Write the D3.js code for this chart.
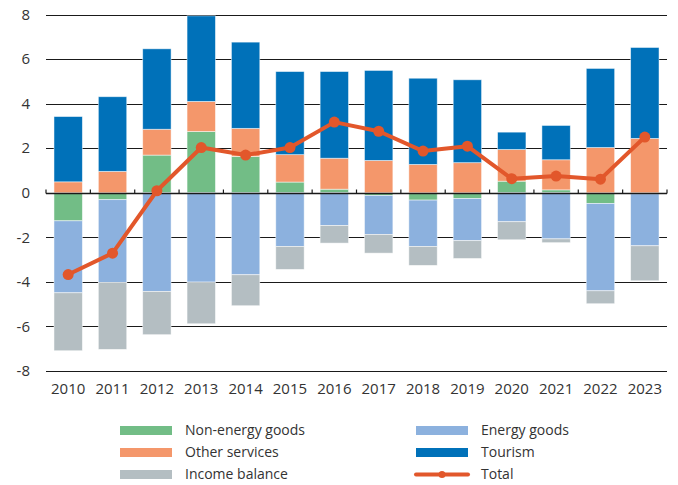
<!DOCTYPE html>
<html>
<head>
<meta charset="utf-8">
<script src="https://cdn.jsdelivr.net/npm/d3@7"></script>
<style>
  body { margin: 0; background: #fff; }
  svg text { font-family: "Open Sans", "Noto Sans", sans-serif; fill: #333; }
</style>
</head>
<body>
<div id="chart"></div>
<script>
'use strict';

// Current account contributions, per cent of GDP
var years = ["2010", "2011", "2012", "2013", "2014", "2015", "2016", "2017", "2018", "2019", "2020", "2021", "2022", "2023"];
var nonEnergyGoods = [-1.26, -0.31, 1.69, 2.75, 1.63, 0.48, 0.16, -0.12, -0.33, -0.26, 0.52, 0.13, -0.48, -0.05];
var energyGoods    = [-3.23, -3.72, -4.43, -4.01, -3.68, -2.41, -1.47, -1.75, -2.08, -1.89, -1.30, -2.07, -3.92, -2.33];
var otherServices  = [0.49, 0.96, 1.16, 1.35, 1.26, 1.23, 1.39, 1.45, 1.27, 1.35, 1.42, 1.35, 2.03, 2.44];
var tourism        = [2.93, 3.35, 3.61, 3.84, 3.87, 3.73, 3.89, 4.04, 3.87, 3.72, 0.78, 1.54, 3.55, 4.08];
var incomeBalance  = [-2.60, -3.00, -1.94, -1.87, -1.39, -1.03, -0.79, -0.84, -0.85, -0.80, -0.81, -0.17, -0.58, -1.57];
var total          = [-3.67, -2.71, 0.09, 2.03, 1.69, 2.03, 3.17, 2.76, 1.87, 2.09, 0.63, 0.75, 0.61, 2.50];
var yTicks = [-8, -6, -4, -2, 0, 2, 4, 6, 8];

var series = [
    { key: "Non-energy goods", values: nonEnergyGoods, color: "#72bd86" },
    { key: "Energy goods", values: energyGoods, color: "#8cb1de" },
    { key: "Other services", values: otherServices, color: "#f4976b" },
    { key: "Tourism", values: tourism, color: "#0071b9" },
    { key: "Income balance", values: incomeBalance, color: "#b4bec2" }
];
var totalColor = "#e2572b";

var width = 678, height = 485;
var margin = { left: 46, right: 11, top: 14.5, bottom: 114 };

var svg = d3.select("#chart").append("svg")
    .attr("width", width)
    .attr("height", height);

var x = d3.scaleBand()
    .domain(years)
    .range([margin.left, width - margin.right])
    .paddingInner(0.36)
    .paddingOuter(0.18);

var y = d3.scaleLinear()
    .domain([-8, 8])
    .range([height - margin.bottom + 0.0, margin.top]);

// grid lines
svg.append("g")
    .selectAll("line")
    .data(yTicks)
    .enter().append("line")
    .attr("x1", margin.left)
    .attr("x2", width - margin.right)
    .attr("y1", function (d) { return Math.round(y(d)) + 0.5; })
    .attr("y2", function (d) { return Math.round(y(d)) + 0.5; })
    .attr("stroke", "#1a1a1a")
    .attr("stroke-width", 1);

// y labels
svg.append("g")
    .selectAll("text")
    .data(yTicks)
    .enter().append("text")
    .attr("x", 30)
    .attr("y", function (d) { return y(d); })
    .attr("dy", "0.35em")
    .attr("text-anchor", "end")
    .style("font-size", "15px")
    .text(function (d) { return d; });

// stacked bars, positives up and negatives down from zero
years.forEach(function (yr, i) {
    var pos = 0, neg = 0;
    series.forEach(function (s) {
        var v = s.values[i];
        var y0, y1;
        if (v >= 0) { y0 = pos; y1 = pos + v; pos = y1; }
        else { y0 = neg; y1 = neg + v; neg = y1; }
        svg.append("rect")
            .attr("x", x(yr))
            .attr("width", x.bandwidth())
            .attr("y", y(Math.max(y0, y1)))
            .attr("height", Math.abs(y(y0) - y(y1)))
            .attr("fill", s.color)
            .attr("stroke", "#ffffff")
            .attr("stroke-opacity", 0.6)
            .attr("stroke-width", 0.8);
    });
});

// zero axis with ticks between categories
var zeroY = Math.round(y(0)) + 0.5;
svg.append("line")
    .attr("x1", margin.left)
    .attr("x2", width - margin.right)
    .attr("y1", zeroY)
    .attr("y2", zeroY)
    .attr("stroke", "#1a1a1a")
    .attr("stroke-width", 1.6);

var step = x.step();
var tickXs = d3.range(years.length + 1).map(function (k) {
    return margin.left + k * (width - margin.left - margin.right) / years.length;
});
svg.append("g")
    .selectAll("line")
    .data(tickXs)
    .enter().append("line")
    .attr("x1", function (d) { return d; })
    .attr("x2", function (d) { return d; })
    .attr("y1", zeroY)
    .attr("y2", zeroY - 4)
    .attr("stroke", "#1a1a1a")
    .attr("stroke-width", 1.2);

// x labels
svg.append("g")
    .selectAll("text")
    .data(years)
    .enter().append("text")
    .attr("x", function (d) { return x(d) + x.bandwidth() / 2; })
    .attr("y", 394)
    .attr("text-anchor", "middle")
    .style("font-size", "15px")
    .text(function (d) { return d; });

// total line
var line = d3.line()
    .x(function (d, i) { return x(years[i]) + x.bandwidth() / 2; })
    .y(function (d) { return y(d); });

svg.append("path")
    .datum(total)
    .attr("d", line)
    .attr("fill", "none")
    .attr("stroke", totalColor)
    .attr("stroke-width", 4)
    .attr("stroke-linejoin", "round");

svg.append("g")
    .selectAll("circle")
    .data(total)
    .enter().append("circle")
    .attr("cx", function (d, i) { return x(years[i]) + x.bandwidth() / 2; })
    .attr("cy", function (d) { return y(d); })
    .attr("r", 5.5)
    .attr("fill", totalColor);

// legend
var legendItems = [
    { key: "Non-energy goods", color: "#72bd86", col: 0, row: 0 },
    { key: "Other services", color: "#f4976b", col: 0, row: 1 },
    { key: "Income balance", color: "#b4bec2", col: 0, row: 2 },
    { key: "Energy goods", color: "#8cb1de", col: 1, row: 0 },
    { key: "Tourism", color: "#0071b9", col: 1, row: 1 },
    { key: "Total", color: totalColor, col: 1, row: 2, isLine: true }
];
var colX = [120, 416];
var rowY = [430.5, 452.5, 474.5];

var lg = svg.append("g").attr("class", "legend");
legendItems.forEach(function (item) {
    var lx = colX[item.col], ly = rowY[item.row];
    if (item.isLine) {
        lg.append("line")
            .attr("x1", lx).attr("x2", lx + 52)
            .attr("y1", ly).attr("y2", ly)
            .attr("stroke", item.color)
            .attr("stroke-width", 4)
            .attr("stroke-linecap", "round");
        lg.append("circle")
            .attr("cx", lx + 26).attr("cy", ly)
            .attr("r", 3.5)
            .attr("fill", item.color);
    } else {
        lg.append("rect")
            .attr("x", lx).attr("y", ly - 4.5)
            .attr("width", 52).attr("height", 9)
            .attr("fill", item.color);
    }
    lg.append("text")
        .attr("x", lx + 65)
        .attr("y", ly)
        .attr("dy", "0.35em")
        .style("font-size", "14px")
        .text(item.key);
});
</script>
</body>
</html>
